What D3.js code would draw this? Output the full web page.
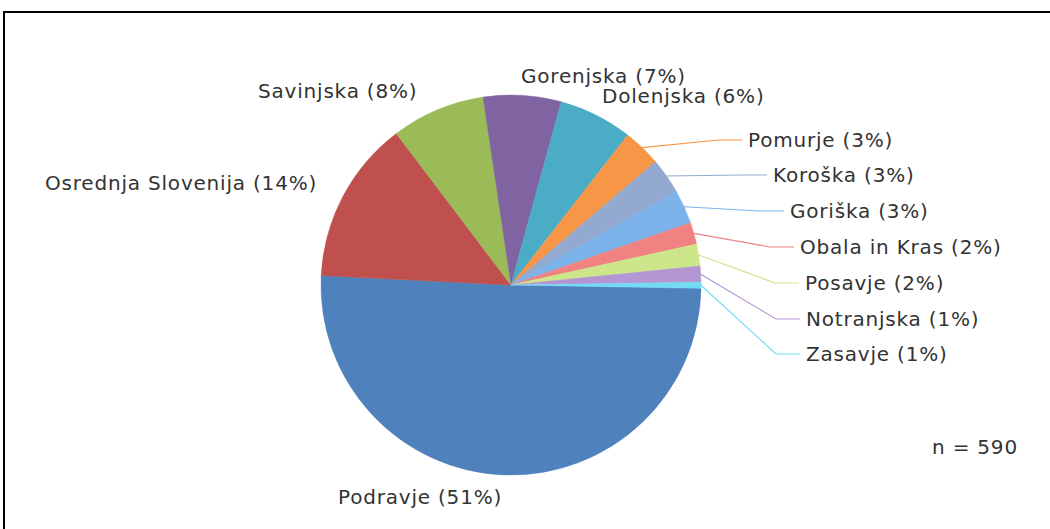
<!DOCTYPE html>
<html>
<head>
<meta charset="utf-8">
<script src="https://cdn.jsdelivr.net/npm/d3@7"></script>
<style>
  html, body { margin: 0; padding: 0; background: #fff; }
  svg { display: block; }
  .lbl { font-family: "DejaVu Sans", Verdana, sans-serif; font-size: 20px; letter-spacing: 0.8px; fill: #333; }
</style>
</head>
<body>
<div id="chart"></div>
<script>
// regions and respondent counts (n = 590)
const regions = ["Podravje", "Osrednja Slovenija", "Savinjska", "Gorenjska", "Dolenjska", "Pomurje",
  "Koroška", "Goriška", "Obala in Kras", "Posavje", "Notranjska", "Zasavje"];
const counts = [298, 82, 47, 39, 37, 19, 18, 17, 11, 11, 8, 3];
const percents = [51, 14, 8, 7, 6, 3, 3, 3, 2, 2, 1, 1];
const colors = ["#4f81bd", "#c0504d", "#9bbb59", "#8064a2", "#4bacc6", "#f79646",
  "#93a9cf", "#7cb3ea", "#f08282", "#cde68a", "#b396d3", "#72dbf4"];
const total = 590;

// label placement (left edge, vertical middle) and whether a leader line is drawn
const labelPos = [[338, 497], [45, 183], [258, 91], [521, 76], [602, 96], [748, 140],
  [773, 175], [790, 211], [800, 247], [805, 283], [806, 319], [806, 354]];
const leader = [false, false, false, false, false, true, true, true, true, true, true, true];

const width = 1050, height = 529;
const cx = 511, cy = 285, radius = 190;

const svg = d3.select("#chart").append("svg")
  .attr("width", width)
  .attr("height", height);

// frame
svg.append("rect")
  .attr("x", 4).attr("y", 12)
  .attr("width", 1200).attr("height", 700)
  .attr("fill", "none")
  .attr("stroke", "#000")
  .attr("stroke-width", 2);

const data = regions.map((r, i) => ({ name: r, value: counts[i], pct: percents[i], color: colors[i], i }));

const start = 91 * Math.PI / 180;
const pie = d3.pie().sort(null).value(d => d.value)
  .startAngle(start).endAngle(start + 2 * Math.PI);
const arcs = pie(data);

const arc = d3.arc().innerRadius(0).outerRadius(radius);

const g = svg.append("g").attr("transform", `translate(${cx},${cy})`);

g.selectAll("path.slice")
  .data(arcs)
  .enter()
  .append("path")
  .attr("class", "slice")
  .attr("d", arc)
  .attr("fill", d => d.data.color)
  .attr("stroke", d => d.data.color)
  .attr("stroke-width", 0.5);

// leader lines from slice edge to the label
const line = d3.line();
svg.selectAll("path.leader")
  .data(arcs.filter(d => leader[d.data.i]))
  .enter()
  .append("path")
  .attr("class", "leader")
  .attr("fill", "none")
  .attr("stroke", d => d.data.color)
  .attr("stroke-width", 1.2)
  .attr("d", d => {
    const mid = (d.startAngle + d.endAngle) / 2;
    const p0 = [cx + radius * Math.sin(mid), cy - radius * Math.cos(mid)];
    const [lx, ly] = labelPos[d.data.i];
    return line([p0, [lx - 30, ly], [lx - 6, ly]]);
  });

// labels
svg.selectAll("text.lbl")
  .data(data)
  .enter()
  .append("text")
  .attr("class", "lbl")
  .attr("x", d => labelPos[d.i][0])
  .attr("y", d => labelPos[d.i][1])
  .attr("dy", "0.35em")
  .text(d => `${d.name} (${d.pct}%)`);

svg.append("text")
  .attr("class", "lbl")
  .attr("x", 932)
  .attr("y", 447)
  .attr("dy", "0.35em")
  .text(`n = ${total}`);
</script>
</body>
</html>
